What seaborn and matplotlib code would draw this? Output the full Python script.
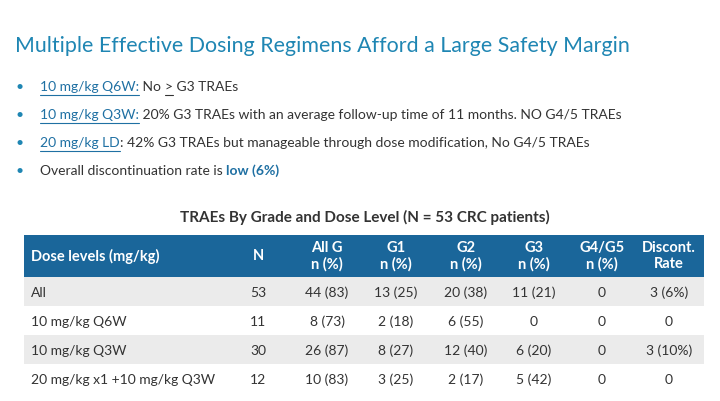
import numpy as np
import matplotlib
matplotlib.use("Agg")
import matplotlib.pyplot as plt
from matplotlib.colors import ListedColormap
from matplotlib.transforms import blended_transform_factory
import seaborn as sns

# slide text
title = "Multiple Effective Dosing Regimens Afford a Large Safety Margin"
bullets = [
    [("10 mg/kg Q6W:", "link"), (" No ", "plain"), (">", "uplain"), (" G3 TRAEs", "plain")],
    [("10 mg/kg Q3W:", "link"), (" 20% G3 TRAEs with an average follow-up time of 11 months. NO G4/5 TRAEs", "plain")],
    [("20 mg/kg LD", "link"), (": 42% G3 TRAEs but manageable through dose modification, No G4/5 TRAEs", "plain")],
    [("Overall discontinuation rate is ", "plain"), ("low (6%)", "bold")],
]
table_title = "TRAEs By Grade and Dose Level (N = 53 CRC patients)"

# table data
headers = ["Dose levels (mg/kg)", "N", "All G\nn (%)", "G1\nn (%)", "G2\nn (%)",
           "G3\nn (%)", "G4/G5\nn (%)", "Discont.\nRate"]
dose_levels = ["All", "10 mg/kg Q6W", "10 mg/kg Q3W", "20 mg/kg x1 +10 mg/kg Q3W"]
n_patients = [53, 11, 30, 12]
all_g = ["44 (83)", "8 (73)", "26 (87)", "10 (83)"]
g1 = ["13 (25)", "2 (18)", "8 (27)", "3 (25)"]
g2 = ["20 (38)", "6 (55)", "12 (40)", "2 (17)"]
g3 = ["11 (21)", "0", "6 (20)", "5 (42)"]
g45 = ["0", "0", "0", "0"]
discont = ["3 (6%)", "0", "3 (10%)", "0"]

sns.set_theme(style="white")
plt.rcParams['font.family'] = ['Lato', 'DejaVu Sans']

W, H = 720, 401
fig = plt.figure(figsize=(7.2, 4.01), dpi=100)
fig.patch.set_facecolor("white")

TEAL = "#1f86b3"
LINK = "#1f70a3"
DARK = "#333333"
HEAD = "#1a669a"
GRAY = "#ebebeb"

# overlay axes in pixel coords for free text
ov = fig.add_axes([0, 0, 1, 1])
ov.set_xlim(0, W)
ov.set_ylim(H, 0)
ov.axis("off")

ov.text(15, 46, title, fontsize=15.4, color=TEAL, fontweight="normal", va="center", ha="left")

fig.canvas.draw()
rend = fig.canvas.get_renderer()
inv = ov.transData.inverted()

line_y = [87, 115, 143, 171]
for y, segs in zip(line_y, bullets):
    ov.text(20, y, "\u2022", fontsize=10, color=TEAL, va="center", ha="center")
    x = 40
    for s, kind in segs:
        color = LINK if kind in ("link", "bold") else DARK
        weight = "bold" if kind == "bold" else "normal"
        t = ov.text(x, y, s, fontsize=10, color=color, fontweight=weight, va="center", ha="left")
        bb = t.get_window_extent(rend)
        (x0, _), (x1, _) = inv.transform([[bb.x0, bb.y0], [bb.x1, bb.y1]])
        if kind in ("link", "uplain"):
            ov.plot([x0, x1], [y + 7.5, y + 7.5], color=color, lw=0.8)
        x = x1

ov.text(365, 217, table_title, fontsize=11, color=DARK, fontweight="bold", va="center", ha="center")

# table: header band and alternating row bands drawn as heatmaps
tl, tr = 24, 704
hdr_top, hdr_bot, body_bot = 235, 277, 393
ax_h = fig.add_axes([tl / W, 1 - hdr_bot / H, (tr - tl) / W, (hdr_bot - hdr_top) / H])
sns.heatmap(np.array([[0]]), cmap=ListedColormap([HEAD]), cbar=False,
            xticklabels=False, yticklabels=False, ax=ax_h)
ax_b = fig.add_axes([tl / W, 1 - body_bot / H, (tr - tl) / W, (body_bot - hdr_bot) / H])
shade = np.array([[i % 2] for i in range(len(dose_levels))])
sns.heatmap(shade, cmap=ListedColormap([GRAY, "white"]), cbar=False, vmin=0, vmax=1,
            xticklabels=False, yticklabels=False, ax=ax_b)

col_x = [31, 258, 327, 396, 466, 534, 602, 669]
col_f = [(c - tl) / (tr - tl) for c in col_x]

th = blended_transform_factory(ax_h.transAxes, ax_h.transAxes)
for i, h in enumerate(headers):
    ha = "left" if i == 0 else "center"
    ax_h.text(col_f[i], 0.5, h, transform=th, fontsize=10.5, color="white",
              fontweight="bold", ha=ha, va="center", linespacing=1.15)

tb = blended_transform_factory(ax_b.transAxes, ax_b.transData)
columns = [dose_levels, [str(n) for n in n_patients], all_g, g1, g2, g3, g45, discont]
for j, col in enumerate(columns):
    for i, v in enumerate(col):
        ha = "left" if j == 0 else "center"
        ax_b.text(col_f[j], i + 0.55, v, transform=tb, fontsize=10, color=DARK,
                  ha=ha, va="center")

fig.savefig("out.png", dpi=100)
